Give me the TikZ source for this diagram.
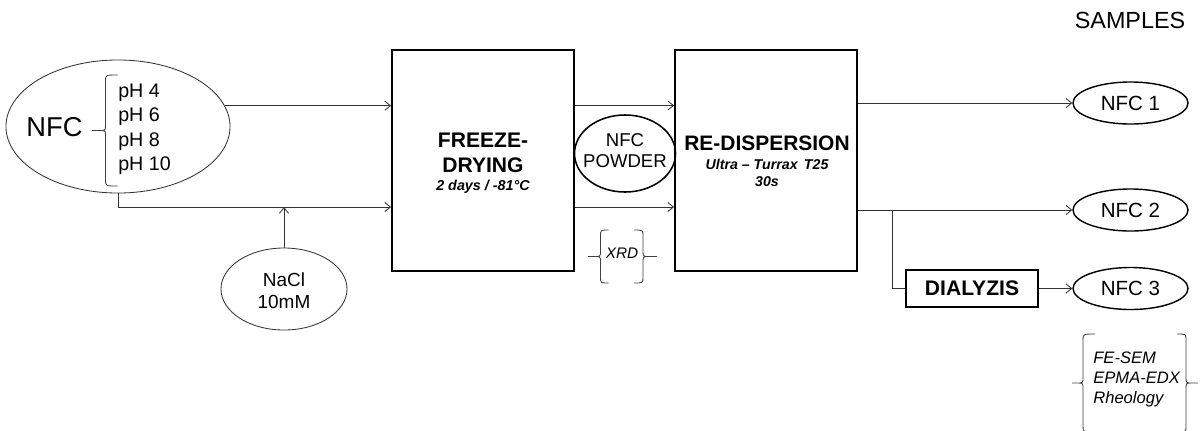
\documentclass[tikz,border=0pt]{standalone}
\usepackage{fontspec}
\setmainfont{Liberation Sans}
\usetikzlibrary{arrows.meta,shapes.geometric}
\newcommand\BrL[5]{% x0, ytop, ybot, hook, tip x
  \pgfmathsetmacro\ym{(#2+#3)/2}
  \draw[brc] (#1+#4,#2) .. controls (#1,#2) .. (#1,#2+6) -- (#1,\ym-6)
     .. controls (#1,\ym) .. (#1-6,\ym) -- (#5,\ym)
     (#1-6,\ym) .. controls (#1,\ym) .. (#1,\ym+6) -- (#1,#3-6)
     .. controls (#1,#3) .. (#1+#4,#3);}
\newcommand\BrR[5]{% x0, ytop, ybot, hook, tip x
  \pgfmathsetmacro\ym{(#2+#3)/2}
  \draw[brc] (#1-#4,#2) .. controls (#1,#2) .. (#1,#2+6) -- (#1,\ym-6)
     .. controls (#1,\ym) .. (#1+6,\ym) -- (#5,\ym)
     (#1+6,\ym) .. controls (#1,\ym) .. (#1,\ym+6) -- (#1,#3-6)
     .. controls (#1,#3) .. (#1-#4,#3);}
\tikzset{
  conn/.style={draw=black!80, line width=0.6pt},
  arr/.style={conn, -{Straight Barb[length=4pt,width=6.5pt]}},
  brc/.style={draw=black!75, line width=0.6pt},
  bigbox/.style={draw=black, line width=1.3pt, minimum width=4.55cm, minimum height=5.525cm, inner sep=0pt},
  thinell/.style={ellipse, draw=black!80, line width=0.6pt, inner sep=0pt},
  sampell/.style={ellipse, draw=black, line width=1pt, inner sep=0pt, minimum width=2.875cm, minimum height=1.05cm},
  txt/.style={inner sep=0pt, anchor=base},
}
\begin{document}
\begin{tikzpicture}[x=0.025cm, y=-0.025cm]
\path[fill=white, use as bounding box] (0,0) rectangle (1200,430);
\coordinate (hi) at (0,105.5);
\coordinate (lo) at (0,207);
% NFC source
\node[thinell, minimum width=5.6cm, minimum height=3.325cm] (nfc) at (118,126.5) {};
\node[txt, font=\fontsize{19.4}{23}\selectfont] (nfclab) at (54.5,136) {NFC};
\BrL{105.5}{75}{186}{12}{92}
\node[txt, anchor=base west, font=\fontsize{14}{16}\selectfont] (ph4) at (118,97) {pH 4};
\node[txt, anchor=base west, font=\fontsize{14}{16}\selectfont] (ph6) at (118,121.5) {pH 6};
\node[txt, anchor=base west, font=\fontsize{14}{16}\selectfont] (ph8) at (118,146) {pH 8};
\node[txt, anchor=base west, font=\fontsize{14}{16}\selectfont] (ph10) at (118,170.5) {pH 10};
% NaCl
\node[thinell, minimum width=3.15cm, minimum height=2.05cm] (nacl) at (284,289) {};
\node[txt, font=\fontsize{13.5}{16}\selectfont] (nacl1) at (284,286) {NaCl};
\node[txt, font=\fontsize{13.5}{16}\selectfont] (nacl2) at (284,308) {10mM};
% Freeze-drying
\node[bigbox] (fd) at (483,160.5) {};
\node[txt, font=\fontsize{15}{18}\selectfont\bfseries] (fd1) at (483,147.5) {FREEZE-};
\node[txt, font=\fontsize{15}{18}\selectfont\bfseries] (fd2) at (483,172) {DRYING};
\node[txt, font=\fontsize{10.2}{12}\selectfont\bfseries\itshape] (fd3) at (483,190) {2 days / -81°C};
% powder
\node[ellipse, draw=black, line width=1.1pt, inner sep=0pt, minimum width=2.525cm, minimum height=1.925cm] (pw) at (625,153.5) {};
\node[txt, font=\fontsize{13.2}{16}\selectfont] (pw1) at (625,146.5) {NFC};
\node[txt, font=\fontsize{13.2}{16}\selectfont] (pw2) at (625,167.5) {POWDER};
% XRD
\BrL{600.5}{230}{283}{8}{588}
\BrR{643}{230}{283}{9}{657}
\node[txt, font=\fontsize{10.9}{13}\selectfont\itshape] (xrd) at (622,258) {XRD};
% Re-dispersion
\node[bigbox] (rd) at (766,160.5) {};
\node[txt, font=\fontsize{14.9}{18}\selectfont\bfseries] (rd1) at (767,150) {RE-DISPERSION};
\node[txt, font=\fontsize{10.1}{12}\selectfont\bfseries\itshape] (rd2) at (767,169.3) {Ultra – Turrax\, T25};
\node[txt, font=\fontsize{10.1}{12}\selectfont\bfseries\itshape] (rd3) at (767,186.7) {30s};
% samples
\node[txt, font=\fontsize{16.6}{19}\selectfont] (samples) at (1130,28.3) {SAMPLES};
\node[sampell] (n1) at (1130.5,103) {};
\node[txt, font=\fontsize{14.6}{17}\selectfont] (n1t) at (1130.5,110) {NFC 1};
\node[sampell] (n2) at (1130.5,210) {};
\node[txt, font=\fontsize{14.6}{17}\selectfont] (n2t) at (1130.5,217) {NFC 2};
\node[sampell] (n3) at (1130.5,288.5) {};
\node[txt, font=\fontsize{14.6}{17}\selectfont] (n3t) at (1130.5,295.5) {NFC 3};
\node[draw=black, line width=1.3pt, inner sep=0pt, minimum width=3.3cm, minimum height=0.925cm, font=\fontsize{15}{17}\selectfont\bfseries] (dia) at (972,288.5) {DIALYZIS};
\coordinate (br) at (892,210);
% analyses
\begin{scope}
\clip (0,0) rectangle (1200,430);
\BrL{1083}{334}{432}{12}{1072}
\BrR{1186}{334}{432}{9}{1198}
\end{scope}
\node[txt, anchor=base west, font=\fontsize{11.8}{14}\selectfont\itshape] (a1) at (1093,363) {FE-SEM};
\node[txt, anchor=base west, font=\fontsize{11.8}{14}\selectfont\itshape] (a2) at (1093,383) {EPMA-EDX};
\node[txt, anchor=base west, font=\fontsize{11.8}{14}\selectfont\itshape] (a3) at (1093,403) {Rheology};
% connectors
\draw[arr] (nfc.11) -- (fd.west |- nfc.11);
\draw[arr] (nfc.south) |- (fd.west |- lo);
\draw[arr] (nacl.north) -- (nacl.north |- lo);
\draw[arr] (fd.east |- hi) -- (rd.west |- hi);
\draw[arr] (fd.east |- lo) -- (rd.west |- lo);
\draw[arr] (rd.east |- n1) -- (n1.west);
\draw[arr] (rd.east |- n2) -- (n2.west);
\draw[conn] (br) |- (dia.west);
\draw[arr] (dia.east) -- (n3.west);
\end{tikzpicture}
\end{document}
